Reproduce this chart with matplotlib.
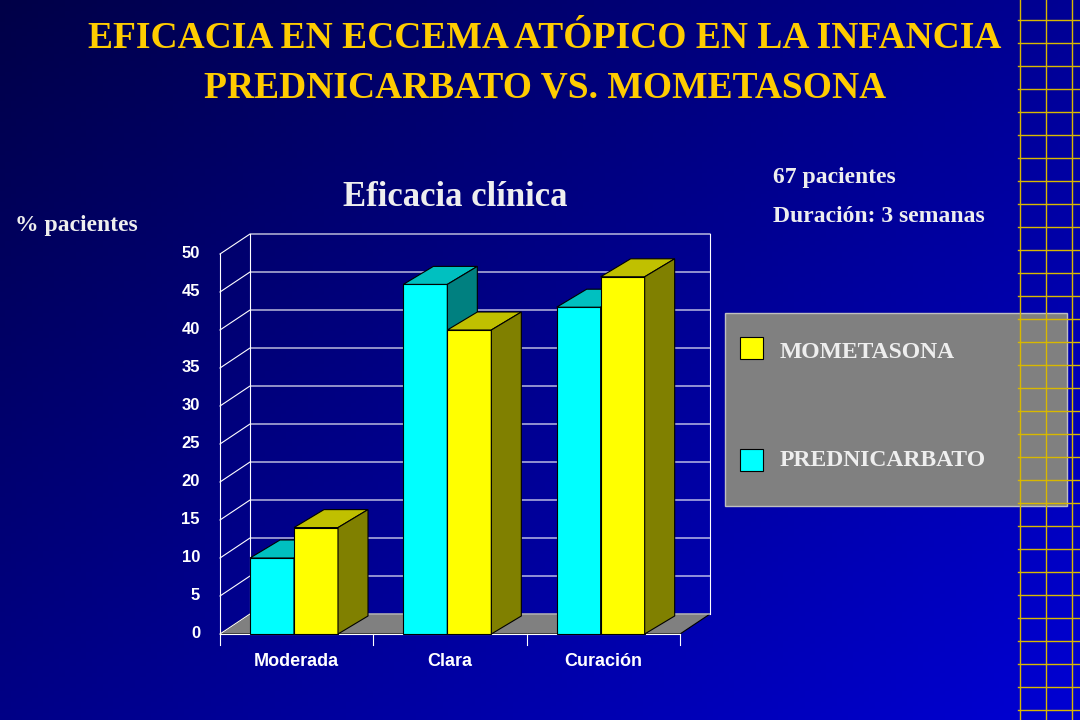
import numpy as np
import matplotlib.pyplot as plt
from matplotlib.patches import Polygon, Rectangle

categories = ["Moderada", "Clara", "Curación"]
prednicarbato = [10, 46, 43]
mometasona = [14, 40, 47]
yticks = [0, 5, 10, 15, 20, 25, 30, 35, 40, 45, 50]

W, H = 1080, 720
fig = plt.figure(figsize=(10.8, 7.2), dpi=100)

# background gradient
bg = fig.add_axes([0, 0, 1, 1])
xx, yy = np.meshgrid(np.linspace(0, 1, 200), np.linspace(0, 1, 200))
g = np.clip(0.55 * xx + 0.45 * yy, 0, 1)
img = np.zeros((200, 200, 3))
img[..., 2] = 0.28 + 0.55 * g
img[..., 0] = 0.0
img[..., 1] = 0.0
bg.imshow(img, extent=[0, W, H, 0], aspect="auto")
bg.set_xlim(0, W)
bg.set_ylim(H, 0)
bg.axis("off")

# yellow grid on the right
for x in [1020, 1046, 1072]:
    bg.plot([x, x], [0, H], color="#d8b800", lw=1)
for y in range(20, H, 23):
    bg.plot([1018, W], [y, y], color="#d8b800", lw=1)

serif = "Liberation Serif"
sans = "Liberation Sans"
yellow_t = "#ffcc00"
bg.text(545, 38, "EFICACIA EN ECCEMA ATÓPICO EN LA INFANCIA", color=yellow_t,
        fontfamily=serif, fontweight="bold", fontsize=27, ha="center", va="center")
bg.text(545, 88, "PREDNICARBATO VS. MOMETASONA", color=yellow_t,
        fontfamily=serif, fontweight="bold", fontsize=27, ha="center", va="center")
bg.text(455, 197, "Eficacia clínica", color="#eeeeee", fontfamily=serif,
        fontweight="bold", fontsize=25, ha="center", va="center")
bg.text(15, 225, "% pacientes", color="#eeeeee", fontfamily=serif,
        fontweight="bold", fontsize=17, ha="left", va="center")
bg.text(773, 177, "67 pacientes", color="#eeeeee", fontfamily=serif,
        fontweight="bold", fontsize=17, ha="left", va="center")
bg.text(773, 216, "Duración: 3 semanas", color="#eeeeee", fontfamily=serif,
        fontweight="bold", fontsize=17, ha="left", va="center")

# legend box
bg.add_patch(Rectangle((725, 313), 342, 193, facecolor="#808080", edgecolor="#c0c0c0", lw=1))
bg.add_patch(Rectangle((740, 337), 23, 22, facecolor="#ffff00", edgecolor="black", lw=0.8))
bg.add_patch(Rectangle((740, 449), 23, 22, facecolor="#00ffff", edgecolor="black", lw=0.8))
bg.text(780, 352, "MOMETASONA", color="#eeeeee", fontfamily=serif,
        fontweight="bold", fontsize=17, ha="left", va="center")
bg.text(780, 461, "PREDNICARBATO", color="#eeeeee", fontfamily=serif,
        fontweight="bold", fontsize=17, ha="left", va="center")

# chart axes: front plane x 220..680 px, y 634..254 px
ax = fig.add_axes([220 / W, 1 - 634 / H, 460 / W, 380 / H])
ax.set_xlim(0, 3)
ax.set_ylim(0, 50)
ax.axis("off")
ax.patch.set_alpha(0)
ux = 3 / 460
uy = 50 / 380
dx, dy = 30 * ux, 20 * uy

# floor
ax.add_patch(Polygon([(0, 0), (3, 0), (3 + dx, dy), (dx, dy)], closed=True,
                     facecolor="#808080", edgecolor="black", lw=0.8, clip_on=False))
# gridlines on back wall and left wall
for t in yticks:
    ax.plot([0, dx, 3 + dx], [t, t + dy, t + dy], color="white", lw=0.8, clip_on=False, zorder=1)
    ax.text(-20 * ux, t, str(t), color="white", fontfamily=sans, fontweight="bold",
            fontsize=12, ha="right", va="center")
ax.plot([dx, dx], [dy, 50 + dy], color="white", lw=0.8, clip_on=False)
ax.plot([3 + dx, 3 + dx], [dy, 50 + dy], color="white", lw=0.8, clip_on=False)
ax.plot([0, 0], [0, 50], color="white", lw=0.8, clip_on=False)
ax.plot([0, 3], [0, 0], color="white", lw=0.8, clip_on=False)
for i in range(4):
    ax.plot([i, i], [0, -11 * uy], color="white", lw=0.8, clip_on=False)
for i, c in enumerate(categories):
    ax.text(i + 0.5, -28 * uy, c, color="white", fontfamily=sans, fontweight="bold",
            fontsize=13, ha="center", va="center")

bw = 44 * ux
bdx, bdy = 30 * ux, 18 * uy


def bar3d(x0, h, front, top, side):
    ax.add_patch(Polygon([(x0, 0), (x0 + bw, 0), (x0 + bw, h), (x0, h)], closed=True,
                         facecolor=front, edgecolor="black", lw=0.8, clip_on=False, zorder=3))
    ax.add_patch(Polygon([(x0, h), (x0 + bw, h), (x0 + bw + bdx, h + bdy), (x0 + bdx, h + bdy)],
                         closed=True, facecolor=top, edgecolor="black", lw=0.8, clip_on=False, zorder=3))
    ax.add_patch(Polygon([(x0 + bw, 0), (x0 + bw + bdx, bdy), (x0 + bw + bdx, h + bdy), (x0 + bw, h)],
                         closed=True, facecolor=side, edgecolor="black", lw=0.8, clip_on=False, zorder=3))


for i in range(3):
    x0 = i + 30 * ux
    bar3d(x0, prednicarbato[i], "#00ffff", "#00c0c0", "#008080")
    bar3d(x0 + bw, mometasona[i], "#ffff00", "#c0c000", "#808000")

fig.savefig("out.png", dpi=100)
